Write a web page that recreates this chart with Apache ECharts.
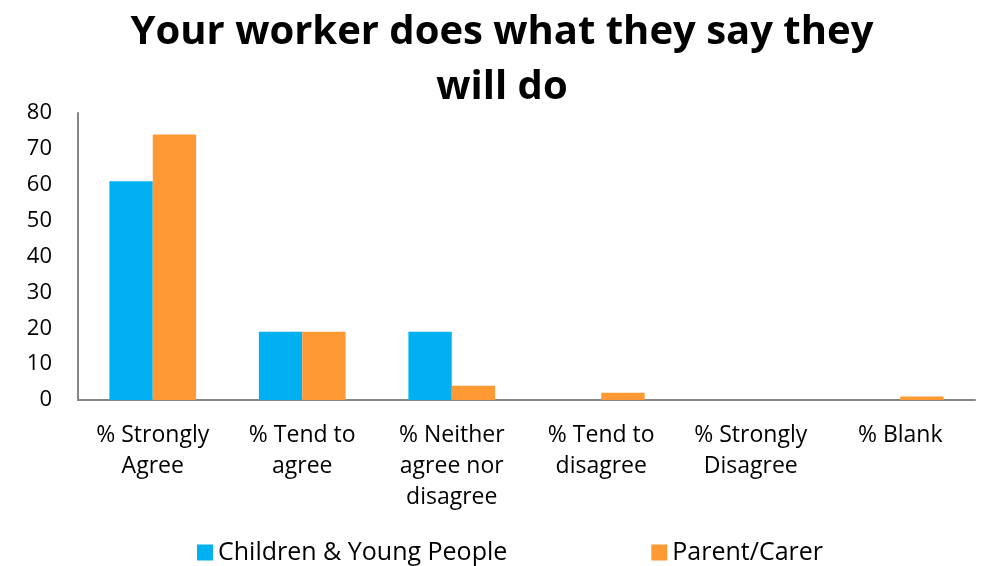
<!DOCTYPE html>
<html>
<head>
<meta charset="utf-8">
<style>
  html, body { margin: 0; padding: 0; background: #fff; }
  #chart { width: 984px; height: 566px; }
</style>
<script src="https://cdn.jsdelivr.net/npm/echarts@6/dist/echarts.min.js"></script>
</head>
<body>
<div id="chart"></div>
<script>
// Survey responses (percent) by category and respondent group
const categories = [
  '% Strongly\nAgree',
  '% Tend to\nagree',
  '% Neither\nagree nor\ndisagree',
  '% Tend to\ndisagree',
  '% Strongly\nDisagree',
  '% Blank'
];
const childrenValues = [61, 19, 19, 0, 0, 0];
const parentValues = [74, 19, 4, 2, 0, 1];
const yTicks = { min: 0, max: 80, interval: 10 };

const font = '"Open Sans", "Noto Sans", sans-serif';

const chart = echarts.init(document.getElementById('chart'), null, { renderer: 'canvas' });
chart.setOption({
  animation: false,
  backgroundColor: '#ffffff',
  title: {
    text: 'Your worker does what they say they\nwill do',
    left: 497,
    top: 0,
    textAlign: 'center',
    textStyle: {
      fontFamily: font,
      fontWeight: 'bold',
      fontSize: 40,
      lineHeight: 55,
      color: '#000'
    }
  },
  grid: { left: 78, right: 9, top: 113, bottom: 166, containLabel: false },
  legend: {
    left: 192,
    top: 535,
    itemWidth: 16,
    itemHeight: 16,
    itemGap: 144,
    icon: 'rect',
    textStyle: { fontFamily: font, fontSize: 25, color: '#000' },
    data: ['Children & Young People', 'Parent/Carer']
  },
  xAxis: {
    type: 'category',
    data: categories,
    axisLine: { lineStyle: { color: '#868686', width: 2 } },
    axisTick: { show: false },
    axisLabel: {
      fontFamily: font,
      fontSize: 23,
      lineHeight: 31,
      color: '#000',
      margin: 20,
      interval: 0
    }
  },
  yAxis: {
    type: 'value',
    min: yTicks.min,
    max: yTicks.max,
    interval: yTicks.interval,
    splitLine: { show: false },
    axisLine: { show: true, lineStyle: { color: '#868686', width: 2 } },
    axisTick: { show: false },
    axisLabel: { fontFamily: font, fontSize: 22, color: '#000', margin: 26 }
  },
  series: [
    {
      name: 'Children & Young People',
      type: 'bar',
      data: childrenValues,
      itemStyle: { color: '#00B0F0' },
      barGap: '0%',
      barCategoryGap: '42%'
    },
    {
      name: 'Parent/Carer',
      type: 'bar',
      data: parentValues,
      itemStyle: { color: '#FF9933' }
    }
  ]
});
</script>
</body>
</html>
